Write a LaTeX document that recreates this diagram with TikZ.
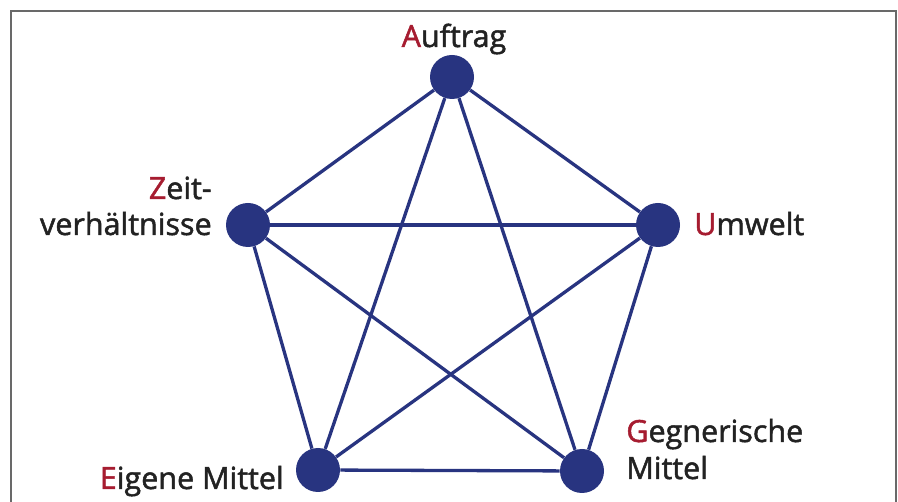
\documentclass[tikz,border=0pt]{standalone}
\usepackage{fontspec}
\setmainfont{Open Sans}
\newfontfamily\lblfont{Open Sans}[FakeBold=1.6]
\usepackage{tikz}
\usetikzlibrary{positioning}

\definecolor{dotblue}{RGB}{40,52,128}
\definecolor{initred}{RGB}{166,28,48}
\definecolor{txtgray}{RGB}{34,34,34}
\definecolor{framegray}{RGB}{105,105,105}

\newcommand{\ini}[1]{\textcolor{initred}{#1}}

\begin{document}
\begin{tikzpicture}[x=1pt,y=-1pt,semithick,
                    link/.style={draw=dotblue,line width=3.3pt},
                    lbl/.style={text=txtgray,inner sep=0pt,
                                font=\lblfont\fontsize{30.5}{36}\selectfont}]
  \tikzstyle{dot}=[circle,fill=dotblue,draw=none,minimum size=44pt,inner sep=0pt]

  \useasboundingbox (0,0) rectangle (898,502);
  \fill[white] (0,0) rectangle (898,502);
  \draw[framegray,line width=1.5pt] (11,502) -- (11,11) -- (896,11) -- (896,502);

  \node[dot] (A) at (452,77)  {};
  \node[dot] (Z) at (248,225) {};
  \node[dot] (U) at (658,225) {};
  \node[dot] (E) at (318,470) {};
  \node[dot] (G) at (582,471) {};

  \path (A) edge[link] (Z)
        (A) edge[link] (U)
        (A) edge[link] (E)
        (A) edge[link] (G)
        (Z) edge[link] (U)
        (Z) edge[link] (E)
        (Z) edge[link] (G)
        (U) edge[link] (E)
        (U) edge[link] (G)
        (E) edge[link] (G);

  \node[lbl,anchor=base]      (lA)  at (454,47)  {\ini{A}uftrag};
  \node[lbl,anchor=base east] (lZ1) at (212,199) {\ini{Z}eit-};
  \node[lbl,anchor=base east] (lZ2) at (212,235) {verhältnisse};
  \node[lbl,anchor=base west] (lU)  at (694,235) {\ini{U}mwelt};
  \node[lbl,anchor=base east] (lE)  at (284,489) {\ini{E}igene Mittel};
  \node[lbl,anchor=base west] (lG1) at (626,442) {\ini{G}egnerische};
  \node[lbl,anchor=base west] (lG2) at (626,479) {Mittel};
\end{tikzpicture}
\end{document}
